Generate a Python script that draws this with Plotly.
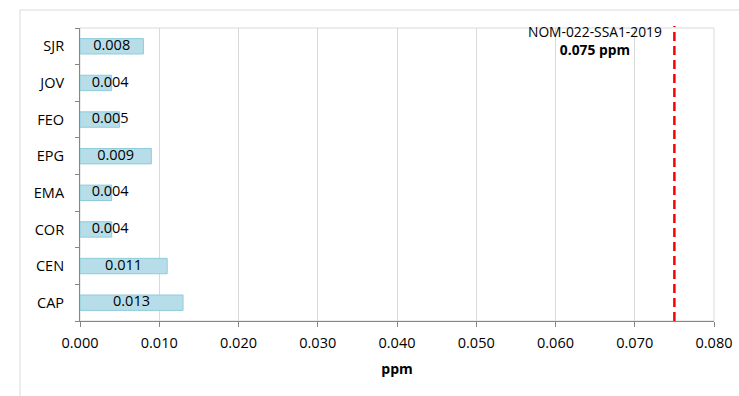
import plotly.graph_objects as go

categories = ["CAP", "CEN", "COR", "EMA", "EPG", "FEO", "JOV", "SJR"]
values = [0.013, 0.011, 0.004, 0.004, 0.009, 0.005, 0.004, 0.008]
labels = ["0.013", "0.011", "0.004", "0.004", "0.009", "0.005", "0.004", "0.008"]
x_ticks = [0.0, 0.01, 0.02, 0.03, 0.04, 0.05, 0.06, 0.07, 0.08]
limit_value = 0.075
limit_name = "NOM-022-SSA1-2019"
limit_label = "0.075 ppm"

FONT = "Open Sans"
min_label_center = 0.0038
label_x = [max(v / 2, min_label_center) for v in values]

fig = go.Figure()
fig.add_trace(go.Bar(
    y=categories, x=values, orientation="h",
    marker=dict(color="#b7dee8", line=dict(color="#8ecbdb", width=1)),
    width=0.42, hoverinfo="skip",
))
fig.add_trace(go.Scatter(
    y=categories, x=label_x, mode="text", text=labels,
    textposition="middle center",
    textfont=dict(family=FONT, size=14.5, color="#000000"),
    hoverinfo="skip",
))
fig.add_shape(type="line", xref="x", yref="paper", x0=limit_value, x1=limit_value,
              y0=0, y1=1.007, line=dict(color="#ff0000", width=2.5, dash="9px,5px"))
fig.add_annotation(xref="x", yref="paper", x=limit_value - 0.0100, y=1.028,
                   text=limit_name + "<br><b>" + limit_label + "</b>",
                   showarrow=False, xanchor="center", yanchor="top",
                   font=dict(family=FONT, size=13.8, color="#000000"), align="center")
# plot-area border
fig.add_shape(type="rect", xref="paper", yref="paper", x0=0, x1=1, y0=0, y1=1,
              line=dict(color="#d9d9d9", width=1), layer="below")
# chart-area border
fig.add_shape(type="rect", xref="paper", yref="paper",
              x0=-60 / 634, x1=1.2, y0=-0.5, y1=1 + 18 / 293,
              line=dict(color="#d9d9d9", width=1), layer="below")

fig.update_layout(
    width=739, height=396,
    margin=dict(l=80, r=25, t=28, b=75, autoexpand=False),
    paper_bgcolor="white", plot_bgcolor="white",
    showlegend=False,
    bargap=0.58,
    font=dict(family=FONT, size=14.5, color="#000000"),
    xaxis=dict(
        range=[0, 0.08], tickvals=x_ticks, tickformat=".3f",
        showgrid=True, gridcolor="#d9d9d9", gridwidth=1,
        showline=True, linecolor="#868686", linewidth=1,
        ticks="outside", ticklen=5, tickcolor="#868686",
        ticklabelstandoff=4, automargin=False,
        zeroline=False,
        title=dict(text="<b>ppm</b>", font=dict(family=FONT, size=14), standoff=12),
    ),
    yaxis=dict(
        categoryorder="array", categoryarray=categories,
        showgrid=False, showline=True, linecolor="#868686", linewidth=1,
        ticks="outside", ticklen=4, tickcolor="#868686", tickson="boundaries",
        ticklabelstandoff=12, automargin=False,
    ),
)

fig.write_html("out.html")
